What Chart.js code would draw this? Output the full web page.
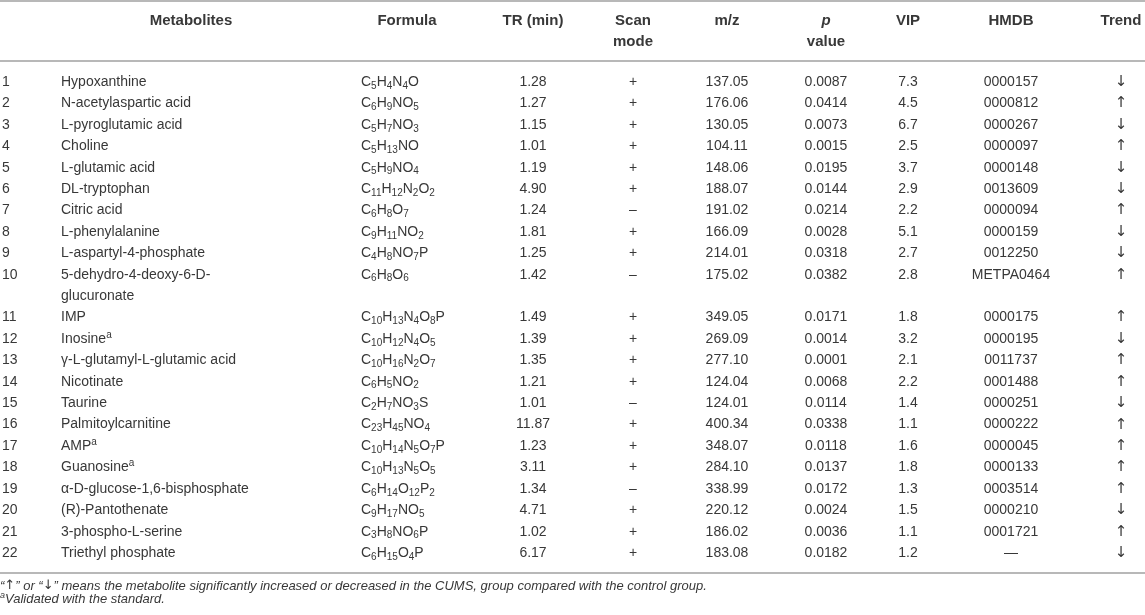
<!DOCTYPE html>
<html>
<head>
<meta charset="utf-8">
<script src="https://cdn.jsdelivr.net/npm/chart.js@4"></script>
<style>
  html, body { margin: 0; padding: 0; background: #fff; }
  #wrap { width: 1145px; height: 615px; }
</style>
</head>
<body>
<div id="wrap"><canvas id="tbl" width="1145" height="615"></canvas></div>
<script>
// table data, one array per column
const metabolites = ['Hypoxanthine', 'N-acetylaspartic acid', 'L-pyroglutamic acid', 'Choline', 'L-glutamic acid',
  'DL-tryptophan', 'Citric acid', 'L-phenylalanine', 'L-aspartyl-4-phosphate', '5-dehydro-4-deoxy-6-D-|glucuronate',
  'IMP', 'Inosine^a', 'γ-L-glutamyl-L-glutamic acid', 'Nicotinate', 'Taurine', 'Palmitoylcarnitine', 'AMP^a',
  'Guanosine^a', 'α-D-glucose-1,6-bisphosphate', '(R)-Pantothenate', '3-phospho-L-serine', 'Triethyl phosphate'];
const formulas = ['C5H4N4O', 'C6H9NO5', 'C5H7NO3', 'C5H13NO', 'C5H9NO4', 'C11H12N2O2', 'C6H8O7', 'C9H11NO2',
  'C4H8NO7P', 'C6H8O6', 'C10H13N4O8P', 'C10H12N4O5', 'C10H16N2O7', 'C6H5NO2', 'C2H7NO3S', 'C23H45NO4',
  'C10H14N5O7P', 'C10H13N5O5', 'C6H14O12P2', 'C9H17NO5', 'C3H8NO6P', 'C6H15O4P'];
const trMin = [1.28, 1.27, 1.15, 1.01, 1.19, 4.90, 1.24, 1.81, 1.25, 1.42, 1.49, 1.39, 1.35, 1.21, 1.01, 11.87,
  1.23, 3.11, 1.34, 4.71, 1.02, 6.17];
const scanMode = ['+', '+', '+', '+', '+', '+', '–', '+', '+', '–', '+', '+', '+', '+', '–', '+', '+', '+', '–', '+', '+', '+'];
const mz = [137.05, 176.06, 130.05, 104.11, 148.06, 188.07, 191.02, 166.09, 214.01, 175.02, 349.05, 269.09, 277.10,
  124.04, 124.01, 400.34, 348.07, 284.10, 338.99, 220.12, 186.02, 183.08];
const pValue = [0.0087, 0.0414, 0.0073, 0.0015, 0.0195, 0.0144, 0.0214, 0.0028, 0.0318, 0.0382, 0.0171, 0.0014,
  0.0001, 0.0068, 0.0114, 0.0338, 0.0118, 0.0137, 0.0172, 0.0024, 0.0036, 0.0182];
const vip = [7.3, 4.5, 6.7, 2.5, 3.7, 2.9, 2.2, 5.1, 2.7, 2.8, 1.8, 3.2, 2.1, 2.2, 1.4, 1.1, 1.6, 1.8, 1.3, 1.5, 1.1, 1.2];
const hmdb = ['0000157', '0000812', '0000267', '0000097', '0000148', '0013609', '0000094', '0000159', '0012250',
  'METPA0464', '0000175', '0000195', '0011737', '0001488', '0000251', '0000222', '0000045', '0000133', '0003514',
  '0000210', '0001721', '—'];
const trend = ['↓', '↑', '↓', '↑', '↓', '↓', '↑', '↓', '↓', '↑', '↑', '↓', '↑', '↑', '↓', '↑', '↑', '↑', '↑', '↓', '↑', '↓'];
const headers = [['Metabolites'], ['Formula'], ['TR (min)'], ['Scan', 'mode'], ['m/z'], ['*p', 'value'], ['VIP'], ['HMDB'], ['Trend']];
const footnotes = ['“↑” or “↓” means the metabolite significantly increased or decreased in the CUMS, group compared with the control group.',
  '^aValidated with the standard.'];

// layout (x in table units, y in text lines)
const colX = { num: 2, name: 61, nameHead: 191, formula: 361, formulaHead: 407, tr: 533, scan: 633, mz: 727, p: 826, vip: 908, hmdb: 1011, trend: 1121 };
const headCols = ['nameHead', 'formulaHead', 'tr', 'scan', 'mz', 'p', 'vip', 'hmdb', 'trend'];
const lineH = { head1: -2.85, head2: -1.87, topRule: -3.78, headRule: -0.98, bottomRule: 22.93, foot1: 23.54, foot2: 24.15 };
const textColor = '#383838';
const ruleColor = '#b8b8b8';
const FONT = '"Liberation Sans", Arial, sans-serif';
const ARROW_FONT = '"DejaVu Sans", sans-serif';

// line index of each row (row 10 wraps onto two lines)
function rowLine(i) { return i < 10 ? i : i + 1; }

// split text into runs: digits subscripted in formulas, ^a superscript, arrows in their own font
function segs(str, isFormula) {
  const out = [];
  if (isFormula) {
    str.match(/[A-Za-z]+|\d+/g).forEach(t => out.push({ t, sub: /\d/.test(t) }));
  } else {
    str.split(/(\^a|[↑↓])/).forEach(t => {
      if (t === '^a') out.push({ t: 'a', sup: true });
      else if (t === '↑' || t === '↓') out.push({ t, arrow: true });
      else if (t) out.push({ t });
    });
  }
  return out;
}

function drawRich(ctx, parts, x, y, align, size, style) {
  const fontFor = p => (style || '') + ' ' + (p.sub || p.sup ? Math.round(size * 0.7) : size) + 'px ' + (p.arrow ? ARROW_FONT : FONT);
  let w = 0;
  parts.forEach(p => { ctx.font = fontFor(p); w += ctx.measureText(p.t).width; });
  let cx = align === 'center' ? x - w / 2 : x;
  ctx.textAlign = 'left';
  ctx.textBaseline = 'middle';
  parts.forEach(p => {
    ctx.font = fontFor(p);
    const dy = p.sub ? size * 0.28 : p.sup ? -size * 0.3 : 0;
    ctx.fillText(p.t, cx, y + dy);
    cx += ctx.measureText(p.t).width;
  });
}

const tablePlugin = {
  id: 'tablePlugin',
  afterDraw(chart) {
    const ctx = chart.ctx;
    const xs = chart.scales.x, ys = chart.scales.y;
    const X = k => xs.getPixelForValue(colX[k]);
    const Y = v => ys.getPixelForValue(v);
    ctx.save();

    // rules
    ctx.strokeStyle = ruleColor;
    ctx.lineWidth = 2;
    [lineH.topRule, lineH.headRule, lineH.bottomRule].forEach(v => {
      ctx.beginPath();
      ctx.moveTo(xs.left, Math.round(Y(v)));
      ctx.lineTo(xs.right, Math.round(Y(v)));
      ctx.stroke();
    });

    ctx.fillStyle = textColor;
    // headers
    headers.forEach((h, i) => {
      h.forEach((txt, j) => {
        const italic = txt.startsWith('*');
        const t = italic ? txt.slice(1) : txt;
        drawRich(ctx, [{ t }], X(headCols[i]), Y(j === 0 ? lineH.head1 : lineH.head2), 'center', 15, italic ? 'italic bold' : 'bold');
      });
    });

    // body
    metabolites.forEach((name, i) => {
      const y = Y(rowLine(i));
      drawRich(ctx, [{ t: String(i + 1) }], X('num'), y, 'left', 14);
      name.split('|').forEach((part, k) => drawRich(ctx, segs(part), X('name'), Y(rowLine(i) + k), 'left', 14));
      drawRich(ctx, segs(formulas[i], true), X('formula'), y, 'left', 14);
      drawRich(ctx, [{ t: trMin[i].toFixed(2) }], X('tr'), y, 'center', 14);
      drawRich(ctx, [{ t: scanMode[i] }], X('scan'), y, 'center', 14);
      drawRich(ctx, [{ t: mz[i].toFixed(2) }], X('mz'), y, 'center', 14);
      drawRich(ctx, [{ t: pValue[i].toFixed(4) }], X('p'), y, 'center', 14);
      drawRich(ctx, [{ t: vip[i].toFixed(1) }], X('vip'), y, 'center', 14);
      drawRich(ctx, [{ t: hmdb[i] }], X('hmdb'), y, 'center', 14);
      drawRich(ctx, segs(trend[i]), X('trend'), y, 'center', 15);
    });

    // footnotes
    drawRich(ctx, segs(footnotes[0]), xs.left, Y(lineH.foot1), 'left', 13, 'italic');
    drawRich(ctx, segs(footnotes[1]), xs.left, Y(lineH.foot2), 'left', 13, 'italic');
    ctx.restore();
  }
};

// invisible anchor points so each cell lives on the chart's scales
const anchors = metabolites.map((m, i) => ({ x: colX.name, y: rowLine(i) }));

new Chart(document.getElementById('tbl'), {
  type: 'scatter',
  data: { datasets: [{ data: anchors, pointRadius: 0, showLine: false }] },
  options: {
    responsive: false,
    animation: false,
    layout: { padding: 0 },
    plugins: { legend: { display: false }, tooltip: { enabled: false } },
    scales: {
      x: { type: 'linear', min: 0, max: 1145, display: false },
      y: { type: 'linear', min: -3.83, max: 24.89, reverse: true, display: false }
    }
  },
  plugins: [tablePlugin]
});
</script>
</body>
</html>
